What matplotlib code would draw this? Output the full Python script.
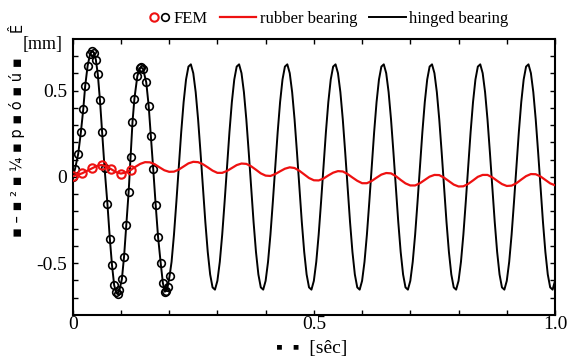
import numpy as np
import matplotlib
matplotlib.use('Agg')
import matplotlib.pyplot as plt
from matplotlib.lines import Line2D
from matplotlib.legend_handler import HandlerTuple

plt.rcParams['font.family'] = ['Liberation Serif', 'DejaVu Sans']

# ---------------- data ----------------
# FEM results (hinged bearing)
fem_hinged_time = [0.000, 0.005, 0.0115, 0.017, 0.022, 0.026, 0.031, 0.036, 0.040, 0.044,
                   0.048, 0.052, 0.0565, 0.061, 0.066, 0.072, 0.077, 0.0815, 0.086, 0.090,
                   0.093, 0.097, 0.102, 0.1065, 0.111, 0.116, 0.120, 0.124, 0.128, 0.134,
                   0.139, 0.142, 0.146, 0.1525, 0.1575, 0.162, 0.167, 0.172, 0.177, 0.1825,
                   0.187, 0.191, 0.194, 0.197, 0.201]
fem_hinged = [0.000, 0.048, 0.135, 0.260, 0.395, 0.530, 0.645, 0.712, 0.730, 0.720,
              0.680, 0.597, 0.447, 0.260, 0.055, -0.155, -0.357, -0.511, -0.627, -0.668,
              -0.678, -0.655, -0.592, -0.462, -0.280, -0.087, 0.115, 0.318, 0.455, 0.584,
              0.630, 0.636, 0.625, 0.549, 0.414, 0.240, 0.045, -0.160, -0.347, -0.500,
              -0.615, -0.665, -0.660, -0.635, -0.572]

# FEM results (rubber bearing)
fem_rubber_time = [0.00, 0.02, 0.04, 0.06, 0.08, 0.10, 0.12]
fem_rubber = [0.005, 0.022, 0.050, 0.070, 0.045, 0.020, 0.040]

# hinged bearing curve after the FEM range (t = 0.205 ... 1.0, step 0.005)
hinged_tail_time = np.round(np.arange(0.205, 1.0001, 0.005), 3)
hinged_tail = [
    -0.492, -0.334, -0.143, 0.062, 0.260, 0.434, 0.565, 0.640, 0.653, 0.602, 0.492, 0.334, 0.143, -0.062, -0.260, -0.434, -0.565, -0.640, -0.653,
    -0.602, -0.492, -0.334, -0.143, 0.062, 0.260, 0.434, 0.565, 0.640, 0.653, 0.602, 0.492, 0.334, 0.143, -0.062, -0.260, -0.434, -0.565, -0.640, -0.653,
    -0.602, -0.492, -0.334, -0.143, 0.062, 0.260, 0.434, 0.565, 0.640, 0.653, 0.602, 0.492, 0.334, 0.143, -0.062, -0.260, -0.434, -0.565, -0.640, -0.653,
    -0.602, -0.492, -0.334, -0.143, 0.062, 0.260, 0.434, 0.565, 0.640, 0.653, 0.602, 0.492, 0.334, 0.143, -0.062, -0.260, -0.434, -0.565, -0.640, -0.653,
    -0.602, -0.492, -0.334, -0.143, 0.062, 0.260, 0.434, 0.565, 0.640, 0.653, 0.602, 0.492, 0.334, 0.143, -0.062, -0.260, -0.434, -0.565, -0.640, -0.653,
    -0.602, -0.492, -0.334, -0.143, 0.062, 0.260, 0.434, 0.565, 0.640, 0.653, 0.602, 0.492, 0.334, 0.143, -0.062, -0.260, -0.434, -0.565, -0.640, -0.653,
    -0.602, -0.492, -0.334, -0.143, 0.062, 0.260, 0.434, 0.565, 0.640, 0.653, 0.602, 0.492, 0.334, 0.143, -0.062, -0.260, -0.434, -0.565, -0.640, -0.653,
    -0.602, -0.492, -0.334, -0.143, 0.062, 0.260, 0.434, 0.565, 0.640, 0.653, 0.602, 0.492, 0.334, 0.143, -0.062, -0.260, -0.434, -0.565, -0.640, -0.653,
    -0.602,
]
hinged_time = list(fem_hinged_time) + list(hinged_tail_time)
hinged = fem_hinged + hinged_tail

# rubber bearing curve (t = 0 ... 1.0, step 0.01)
rubber_time = np.round(np.arange(0, 1.0001, 0.01), 2)
rubber = [
    0.005, 0.012, 0.022, 0.036, 0.050, 0.064, 0.070, 0.060, 0.045, 0.028,
    0.020, 0.026, 0.040, 0.059, 0.076, 0.086, 0.085, 0.074, 0.056, 0.039,
    0.030, 0.031, 0.043, 0.061, 0.079, 0.088, 0.086, 0.074, 0.056, 0.037,
    0.024, 0.024, 0.035, 0.052, 0.069, 0.078, 0.076, 0.062, 0.042, 0.021,
    0.008, 0.006, 0.017, 0.033, 0.048, 0.056, 0.052, 0.036, 0.015, -0.006,
    -0.019, -0.020, -0.009, 0.009, 0.025, 0.034, 0.032, 0.017, -0.003, -0.022,
    -0.036, -0.036, -0.023, -0.004, 0.014, 0.023, 0.021, 0.005, -0.017, -0.037,
    -0.049, -0.049, -0.036, -0.017, 0.002, 0.012, 0.011, -0.004, -0.024, -0.044,
    -0.055, -0.054, -0.040, -0.020, 0.001, 0.012, 0.012, -0.002, -0.022, -0.041,
    -0.052, -0.050, -0.036, -0.015, 0.005, 0.017, 0.016, 0.003, -0.017, -0.037,
    -0.048,
]

xtick_values = [0.0, 0.1, 0.2, 0.3, 0.4, 0.5, 0.6, 0.7, 0.8, 0.9, 1.0]
xtick_labels = ['0', '', '', '', '', '0.5', '', '', '', '', '1.0']
ytick_values = [-0.7, -0.6, -0.5, -0.4, -0.3, -0.2, -0.1, 0.0, 0.1, 0.2, 0.3, 0.4, 0.5, 0.6, 0.7]
ytick_labels = ['', '', '-0.5', '', '', '', '', '0', '', '', '', '', '0.5', '', '']

legend_labels = ['FEM', 'rubber bearing', 'hinged bearing']
xlabel_text = '\u25aa  \u25aa  [s\u00eac]'
ylabel_text = '\u25aa \u2013 \u25aa \u00b2 \u25aa \u00bc \u25aa p \u25aa \u00f3 \u25aa \u00fa \u25aa'
ylabel_top = '\u00ca'
yunit_text = '[mm]'

RED = '#ee1111'

# ---------------- figure ----------------
fig = plt.figure(figsize=(5.71, 3.60), dpi=100)
ax = fig.add_axes([0.1273, 0.125, 0.8447, 0.7667])

ax.plot(hinged_time, hinged, color='black', lw=1.4, zorder=2)
ax.plot(fem_hinged_time, fem_hinged, ls='none', marker='o', mfc='none',
        mec='black', ms=5.5, mew=1.2, zorder=3)
ax.plot(rubber_time, rubber, color=RED, lw=1.6, zorder=4)
ax.plot(fem_rubber_time, fem_rubber, ls='none', marker='o', mfc='none',
        mec=RED, ms=6, mew=1.5, zorder=5)

ax.set_xlim(0, 1.0)
ax.set_ylim(-0.8, 0.8)
ax.set_xticks(xtick_values)
ax.set_xticklabels(xtick_labels)
ax.set_yticks(ytick_values)
ax.set_yticklabels(ytick_labels)
ax.tick_params(direction='in', length=3.5, width=1.0, top=True, right=True,
               labelsize=14, colors='black')
ax.tick_params(axis='x', pad=1)
ax.tick_params(axis='y', pad=4)
for s in ax.spines.values():
    s.set_linewidth(1.5)

fig.text(0.545, 0.033, xlabel_text, ha='center', va='center', fontsize=14)
fig.text(0.030, 0.59, ylabel_text, rotation=90, ha='center', va='center',
         fontsize=10.5, family=['DejaVu Sans'])
fig.text(0.030, 0.925, ylabel_top, rotation=90, ha='center', va='center',
         fontsize=10.5, family=['DejaVu Sans'])
fig.text(0.040, 0.875, yunit_text, ha='left', va='center', fontsize=13)


class NarrowTuple(HandlerTuple):
    def create_artists(self, legend, orig_handle, xdescent, ydescent, width,
                       height, fontsize, trans):
        neww = width * 0.6
        return super().create_artists(legend, orig_handle,
                                      xdescent - (width - neww), ydescent,
                                      neww, height, fontsize, trans)


red_m = Line2D([], [], ls='none', marker='o', mfc='none', mec=RED, ms=6, mew=1.5)
blk_m = Line2D([], [], ls='none', marker='o', mfc='none', mec='black', ms=5.5, mew=1.2)
red_l = Line2D([], [], color=RED, lw=1.6)
blk_l = Line2D([], [], color='black', lw=1.4)
fig.legend([(red_m, blk_m), red_l, blk_l], legend_labels,
           handler_map={tuple: NarrowTuple(ndivide=None, pad=0.0)},
           loc='center right', bbox_to_anchor=(0.89, 0.948), ncol=3,
           frameon=False, fontsize=12, handlelength=2.2, handletextpad=0.2,
           columnspacing=0.7, borderaxespad=0, borderpad=0)

fig.savefig('out.png', dpi=100)
